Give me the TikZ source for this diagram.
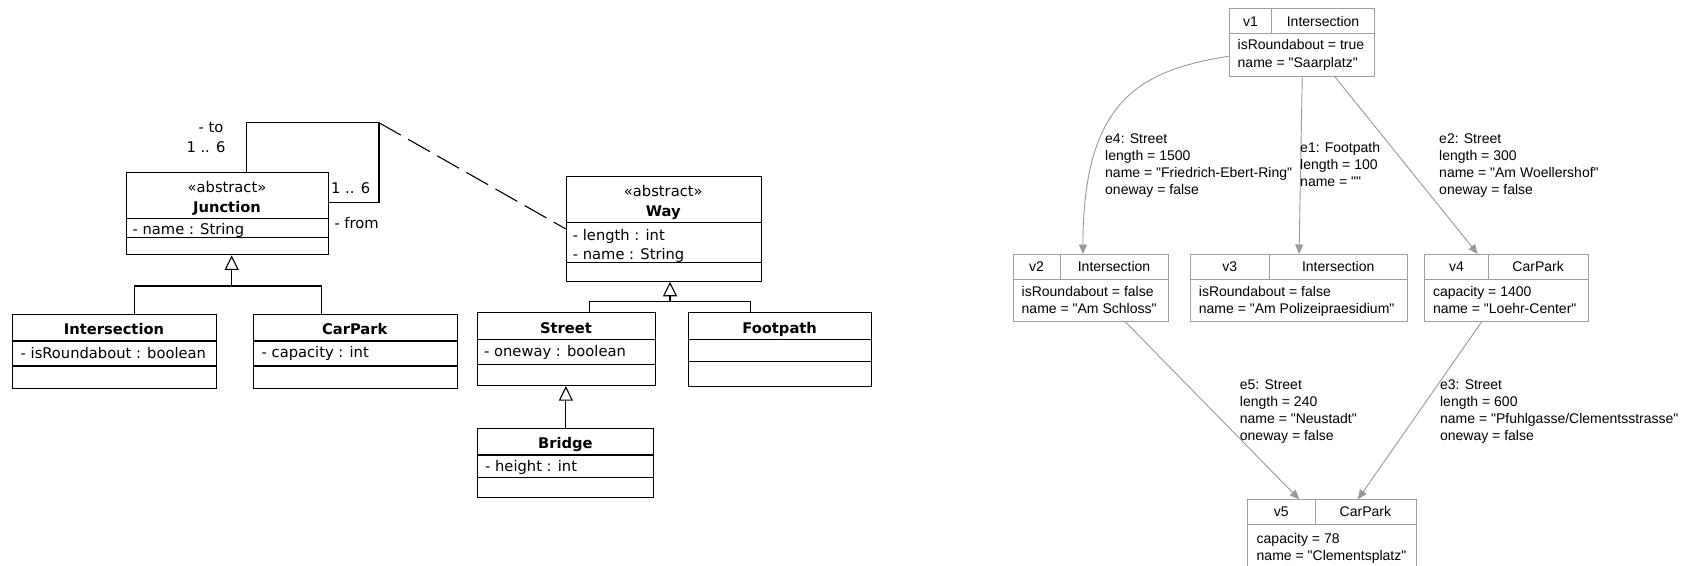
\documentclass[tikz,border=0pt]{standalone}
\usepackage{fontspec}
\newfontfamily\umlfont{DejaVu Sans}
\newfontfamily\objfont[Ligatures=TeXOff]{Liberation Sans}
\newcommand\umlsize{\fontsize{14.7}{18}\selectfont}
\newcommand\objsize{\fontsize{14}{17.2}\selectfont}
\usetikzlibrary{arrows.meta}

\begin{document}
\begin{tikzpicture}[x=1pt,y=-1pt,
  cls/.style={draw, line width=1.1pt, anchor=north west, inner sep=0pt},
  clsname/.style={inner sep=0pt, anchor=base, font=\umlfont\bfseries\umlsize},
  ster/.style={inner sep=0pt, anchor=base, font=\umlfont\umlsize},
  clsattr/.style={inner sep=0pt, anchor=base west, font=\umlfont\umlsize},
  gen/.style={line width=1.1pt, -{Triangle[open,length=14.5pt,width=14pt]}},
  obj/.style={draw=black!38, line width=0.9pt, anchor=north west, inner sep=0pt},
  objhead/.style={inner sep=0pt, anchor=base, font=\objfont\objsize},
  objtext/.style={inner sep=0pt, anchor=north west, align=left, font=\objfont\objsize},
  objarrow/.style={draw=black!40, line width=0.9pt, -{Triangle[length=9.5pt,width=8pt]}}]
\useasboundingbox (0,0) rectangle (1681,565);
\fill[white] (0,0) rectangle (1681,565);

% class diagram
\node[cls, minimum width=202pt, minimum height=82.6pt] (junction) at (126,171.7) {};
\node[cls, minimum width=203.4pt, minimum height=73.8pt] (intersection) at (12.3,313.7) {};
\node[cls, minimum width=204pt, minimum height=73.8pt] (carpark) at (252.7,313.7) {};
\node[cls, minimum width=195.3pt, minimum height=104.7pt] (way) at (565.7,176) {};
\node[cls, minimum width=178.6pt, minimum height=72.7pt] (street) at (476.7,312.3) {};
\node[cls, minimum width=182.7pt, minimum height=73.7pt] (footpath) at (688.3,312.3) {};
\node[cls, minimum width=176pt, minimum height=69pt] (bridge) at (477.3,427.7) {};
\foreach \n/\a/\b in {junction/218.3/237.3, intersection/341/366, carpark/341/366,
    way/222.7/262.7, street/339.3/364.3, footpath/339.3/361.7, bridge/455/477.3}
  \draw[line width=1.1pt] (\n.west |- 0,\a) -- (\n.east |- 0,\a) (\n.west |- 0,\b) -- (\n.east |- 0,\b);

\node[ster] (junction-st) at (227,192.3) {«abstract»};
\node[clsname] (junction-name) at (227,212.7) {Junction};
\node[clsattr] (junction-a1) at (132.5,234.5) {- name : String};
\node[clsname] (intersection-name) at (114,334.3) {Intersection};
\node[clsattr] (intersection-a1) at (20.5,358) {- isRoundabout : boolean};
\node[clsname] (carpark-name) at (354.7,334.3) {CarPark};
\node[clsattr] (carpark-a1) at (261.5,357.7) {- capacity : int};
\node[ster] (way-st) at (663.3,196) {«abstract»};
\node[clsname] (way-name) at (663.3,216) {Way};
\node[clsattr] (way-a1) at (572.7,240) {- length : int};
\node[clsattr] (way-a2) at (572.7,259.3) {- name : String};
\node[clsname] (street-name) at (566,333.3) {Street};
\node[clsattr] (street-a1) at (484,356.7) {- oneway : boolean};
\node[clsname] (footpath-name) at (779.6,333.3) {Footpath};
\node[clsname] (bridge-name) at (565.3,448.3) {Bridge};
\node[clsattr] (bridge-a1) at (485,471) {- height : int};

% association with class
\coordinate (assoc) at (379,122.7);
\draw[line width=1.1pt] ([xshift=18.7pt]junction.north) |- (assoc) |- ([yshift=11.3pt]junction.east);
\draw[line width=1.1pt, dash pattern=on 25pt off 8.5pt] (assoc) -- (way.west);
\node[clsattr, anchor=base east] (to-role) at (223.5,132.3) {- to};
\node[clsattr, anchor=base east] (to-mult) at (225.7,152.7) {1 .. 6};
\node[clsattr] (from-mult) at (331,193.3) {1 .. 6};
\node[clsattr] (from-role) at (334.3,228.3) {- from};

% generalisations
\coordinate (jbar) at (231.7,286);
\coordinate (wbar) at (670,301.3);
\draw[gen] (jbar) -- (jbar |- junction.south);
\draw[line width=1.1pt] ([xshift=20.3pt]intersection.north) |- (jbar) -| ([xshift=-34pt]carpark.north);
\draw[gen] (wbar) -- (wbar |- way.south);
\draw[line width=1.1pt] ([xshift=23pt]street.north) |- (wbar) -| ([xshift=-29.6pt]footpath.north);
\draw[gen] (bridge.north) -- (bridge.north |- street.south);

% object diagram
\node[obj, minimum width=145pt, minimum height=67.4pt] (v1) at (1229.3,8.3) {};
\node[obj, minimum width=155pt, minimum height=67pt] (v2) at (1013,254) {};
\node[obj, minimum width=216.8pt, minimum height=67pt] (v3) at (1190.2,254) {};
\node[obj, minimum width=163.3pt, minimum height=67pt] (v4) at (1424.3,254) {};
\node[obj, minimum width=168.4pt, minimum height=90pt] (v5) at (1247.3,499.3) {};
\foreach \n/\d/\h in {v1/1271.7/33.3, v2/1060/279, v3/1269.3/279, v4/1488.6/279, v5/1315/524.3}
  \draw[black!38, line width=0.9pt] (\n.west |- 0,\h) -- (\n.east |- 0,\h) (\d,0 |- \n.north) -- (\d,\h);

\node[objhead] (v1-id) at (1250.5,26) {v1};
\node[objhead] (v1-type) at (1323,26) {Intersection};
\node[objhead] (v2-id) at (1036.5,271.7) {v2};
\node[objhead] (v2-type) at (1114,271.7) {Intersection};
\node[objhead] (v3-id) at (1229.8,271.7) {v3};
\node[objhead] (v3-type) at (1338.2,271.7) {Intersection};
\node[objhead] (v4-id) at (1456.5,271.7) {v4};
\node[objhead] (v4-type) at (1538.1,271.7) {CarPark};
\node[objhead] (v5-id) at (1281.2,516.5) {v5};
\node[objhead] (v5-type) at (1365.4,516.5) {CarPark};

\node[objtext] (v1-val) at (1237.5,39.5) {isRoundabout = true\\name = "Saarplatz"};
\node[objtext] (v2-val) at (1021.5,286) {isRoundabout = false\\name = "Am Schloss"};
\node[objtext] (v3-val) at (1198.7,286) {isRoundabout = false\\name = "Am Polizeipraesidium"};
\node[objtext] (v4-val) at (1432.8,286) {capacity = 1400\\name = "Loehr-Center"};
\node[objtext] (v5-val) at (1256.5,533) {capacity = 78\\name = "Clementsplatz"};

% links
\draw[objarrow] ([yshift=-13.7pt]v1.west) .. controls +(-89,14) and +(0,-154) .. ([xshift=-8pt]v2.north);
\draw[objarrow] (v1.south) -- (v3.north);
\draw[objarrow] ([xshift=32.5pt]v1.south) -- ([xshift=-28.7pt]v4.north);
\draw[objarrow] ([xshift=34.5pt]v2.south) -- ([xshift=-32.7pt]v5.north);
\draw[objarrow] ([xshift=-24.8pt]v4.south) -- ([xshift=25.9pt]v5.north);

\node[objtext] (e4) at (1105,133.3) {e4: Street\\length = 1500\\name = "Friedrich-Ebert-Ring"\\oneway = false};
\node[objtext] (e1) at (1300,141.7) {e1: Footpath\\length = 100\\name = ""};
\node[objtext] (e2) at (1439,133.3) {e2: Street\\length = 300\\name = "Am Woellershof"\\oneway = false};
\node[objtext] (e5) at (1239.7,379.3) {e5: Street\\length = 240\\name = "Neustadt"\\oneway = false};
\node[objtext] (e3) at (1439.9,379.3) {e3: Street\\length = 600\\name = "Pfuhlgasse/Clementsstrasse"\\oneway = false};
\end{tikzpicture}
\end{document}
